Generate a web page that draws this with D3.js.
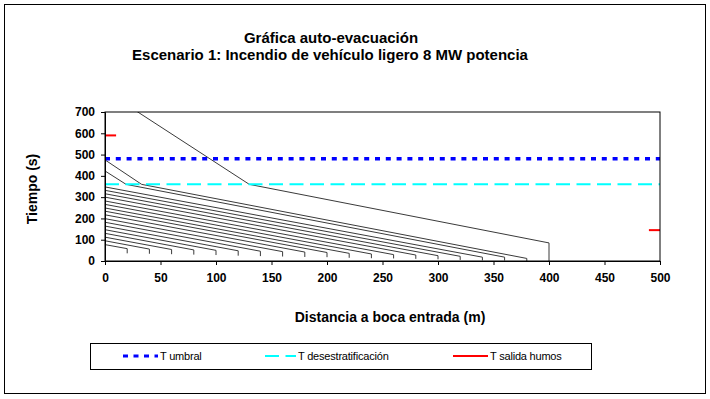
<!DOCTYPE html>
<html>
<head>
<meta charset="utf-8">
<script src="https://cdn.jsdelivr.net/npm/d3@7"></script>
<style>
  body { margin: 0; background: #fff; }
  text { font-family: "Liberation Sans", Arial, sans-serif; }
</style>
</head>
<body>
<svg id="chart"></svg>
<script>
// distancia de cada ocupante a la boca (m)
const distancias = [20, 40, 60, 80, 100, 120, 140, 160, 180, 200, 220, 240, 260, 280, 300, 320, 340, 360, 380, 400]
// inicio y fin del tramo vertical (s)
const tAviso   = [36, 34, 32, 30, 28, 25, 23, 21, 19, 18, 15, 13, 12, 10, 8, 5, 3, 2, 0, 0]
const tPartida = [58, 56, 54, 52, 50, 48, 46, 44, 42, 40, 36, 33, 30, 28, 25, 22, 18, 18, 12, 85]
// tiempo al llegar a la boca (x = 0)
const tBoca    = [77, 95, 112, 130, 147, 164, 182, 199, 217, 234, 249, 266, 282, 300, 316, 332, 348, 423, 475, 800]
// distancia donde la recta corta T desestratificación (cambio de velocidad)
const xCambio  = [null, null, null, null, null, null, null, null, null, null, null, null, null, null, null, null, null, 19, 33, 130]

const tUmbral = 480
const tDesestrat = 360
const salidaHumos = [[0, 10, 590], [490, 500, 145]]

const xTicks = [0, 50, 100, 150, 200, 250, 300, 350, 400, 450, 500]
const yTicks = [0, 100, 200, 300, 400, 500, 600, 700]

const w = 710
const h = 399

const svg = d3.select("#chart")
  .attr("width", w)
  .attr("height", h)

// marco exterior
svg.append("rect")
  .attr("x", 4.5).attr("y", 4.5)
  .attr("width", 701).attr("height", 389)
  .attr("fill", "none").attr("stroke", "#000").attr("stroke-width", 1)

const x = d3.scaleLinear().domain([0, 500]).range([105, 660])
const y = d3.scaleLinear().domain([0, 700]).range([261, 112])

svg.append("defs").append("clipPath").attr("id", "plot")
  .append("rect")
  .attr("x", x(0)).attr("y", y(700))
  .attr("width", x(500) - x(0)).attr("height", y(0) - y(700))

// titulo
svg.append("text")
  .attr("x", 331).attr("y", 43)
  .attr("text-anchor", "middle")
  .attr("font-size", 15).attr("font-weight", "bold")
  .text("Gráfica auto-evacuación")
svg.append("text")
  .attr("x", 330).attr("y", 60)
  .attr("text-anchor", "middle")
  .attr("font-size", 15).attr("font-weight", "bold")
  .text("Escenario 1: Incendio de vehículo ligero 8 MW potencia")

// series de evacuación
const series = distancias.map((d, i) => {
  const pts = [[d, tAviso[i]], [d, tPartida[i]]]
  if (xCambio[i] !== null) pts.push([xCambio[i], tDesestrat])
  pts.push([0, tBoca[i]])
  return pts
})

const line = d3.line().x(p => x(p[0])).y(p => y(p[1]))

const g = svg.append("g").attr("clip-path", "url(#plot)")

g.selectAll("path.evac")
  .data(series)
  .enter()
  .append("path")
  .attr("class", "evac")
  .attr("d", line)
  .attr("fill", "none")
  .attr("stroke", "#3a3a3a")
  .attr("stroke-width", 1)

g.append("line")
  .attr("x1", x(0)).attr("x2", x(500))
  .attr("y1", y(tDesestrat)).attr("y2", y(tDesestrat))
  .attr("stroke", "#00ffff").attr("stroke-width", 2)
  .attr("stroke-dasharray", "14,6.5")

g.append("line")
  .attr("x1", x(0)).attr("x2", x(500))
  .attr("y1", y(tUmbral)).attr("y2", y(tUmbral))
  .attr("stroke", "#0000ff").attr("stroke-width", 3.5)
  .attr("stroke-dasharray", "5,5.8")

g.selectAll("line.humo")
  .data(salidaHumos)
  .enter()
  .append("line")
  .attr("class", "humo")
  .attr("x1", d => x(d[0])).attr("x2", d => x(d[1]))
  .attr("y1", d => y(d[2])).attr("y2", d => y(d[2]))
  .attr("stroke", "#ff0000").attr("stroke-width", 2)

// marco del area de trazado
svg.append("rect")
  .attr("x", x(0)).attr("y", y(700))
  .attr("width", x(500) - x(0)).attr("height", y(0) - y(700))
  .attr("fill", "none").attr("stroke", "#000").attr("stroke-width", 1)

const xAxis = d3.axisBottom(x).tickValues(xTicks).tickSize(4).tickPadding(8)
const yAxis = d3.axisLeft(y).tickValues(yTicks).tickSize(4).tickPadding(6)

const gx = svg.append("g")
  .attr("transform", `translate(0, ${y(0)})`)
  .call(xAxis)
const gy = svg.append("g")
  .attr("transform", `translate(${x(0)}, 0)`)
  .call(yAxis)

;[gx, gy].forEach(a => {
  a.select(".domain").attr("stroke", "#000")
  a.selectAll(".tick line").attr("stroke", "#000")
  a.selectAll(".tick text")
    .attr("font-family", "'Liberation Sans', Arial, sans-serif")
    .attr("font-size", 12).attr("font-weight", "bold").attr("fill", "#000")
})

svg.append("text")
  .attr("transform", "translate(37, 189) rotate(-90)")
  .attr("text-anchor", "middle")
  .attr("font-size", 14).attr("font-weight", "bold")
  .text("Tiempo (s)")

svg.append("text")
  .attr("x", 390).attr("y", 322)
  .attr("text-anchor", "middle")
  .attr("font-size", 14).attr("font-weight", "bold")
  .text("Distancia a boca entrada (m)")

// leyenda
const legend = [
  { label: "T umbral", color: "#0000ff", width: 3, dash: "5,5.5", x0: 123, x1: 158 },
  { label: "T desestratificación", color: "#00ffff", width: 2, dash: "14,6.5", x0: 265, x1: 296 },
  { label: "T salida humos", color: "#ff0000", width: 2, dash: null, x0: 453, x1: 488 }
]

svg.append("rect")
  .attr("x", 90.5).attr("y", 343.5)
  .attr("width", 501).attr("height", 26)
  .attr("fill", "none").attr("stroke", "#000").attr("stroke-width", 1)

const lg = svg.selectAll("g.leg")
  .data(legend)
  .enter()
  .append("g")
  .attr("class", "leg")

lg.append("line")
  .attr("x1", d => d.x0).attr("x2", d => d.x1)
  .attr("y1", 356).attr("y2", 356)
  .attr("stroke", d => d.color)
  .attr("stroke-width", d => d.width)
  .attr("stroke-dasharray", d => d.dash)

lg.append("text")
  .attr("x", d => d.x1 + 2).attr("y", 360)
  .attr("font-size", 11)
  .attr("letter-spacing", -0.2)
  .text(d => d.label)
</script>
</body>
</html>
